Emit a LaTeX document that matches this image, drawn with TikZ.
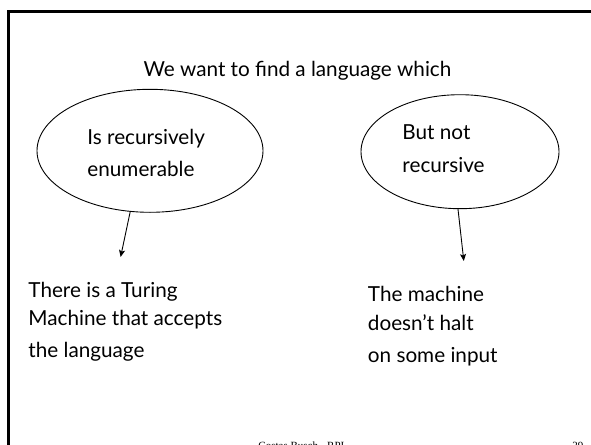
\documentclass[tikz,border=0pt]{standalone}
\usepackage{fontspec}
\setmainfont{Lato}
\newfontfamily\footfont{Liberation Serif}
\usetikzlibrary{shapes.geometric}
\usetikzlibrary{positioning}
\usetikzlibrary{arrows.meta}

\begin{document}
\begin{tikzpicture}[x=1pt,y=-1pt,->,>={Stealth[length=7pt,width=6pt,inset=1.5pt]},
		line width=0.9pt,oval/.style={ellipse,draw,inner sep=0pt},
		line/.style={anchor=base west,inner sep=0pt,font=\fontsize{20.7}{24}\selectfont},
		foot/.style={anchor=base west,inner sep=0pt,font=\footfont\fontsize{11}{13}\selectfont}]
		
		\useasboundingbox (0,0) rectangle (591,444);
		\clip (0,0) rectangle (591,444);
		
		% slide frame
		\draw[-,line width=3pt] (8.5,11.5) rectangle (640,480);
		
		\node[line, anchor=base] (title) at (297.5,76) {We want to find a language which};
		
		% the two ovals
		\node[oval, minimum width=226, minimum height=123] (re) at (150,150.8) {};
		\node[oval, minimum width=198, minimum height=114] (nr) at (460,151.7) {};
		
		\node[line] (re1) at (87,144) {Is recursively};
		\node[line] (re2) at (87,176.7) {enumerable};
		\node[line] (nr1) at (402,139.3) {But not};
		\node[line] (nr2) at (402,172.7) {recursive};
		
		\node[line] (tm1) at (28,297.7) {There is a Turing};
		\node[line] (tm2) at (28,325) {Machine that accepts};
		\node[line] (tm3) at (28,357.3) {the language};
		\node[line] (nh1) at (367.5,301.7) {The machine};
		\node[line] (nh2) at (367.5,330) {doesn't halt};
		\node[line] (nh3) at (367.5,362.7) {on some input};
		
		\coordinate (tmtip) at (120.6,257);
		\coordinate (nhtip) at (463.8,261);
		
		\path
		(re.-108) edge (tmtip)
		(nr.-92) edge (nhtip);
		
		\node[foot] (author) at (258,449) {Costas Busch - RPI};
		\node[foot] (page) at (572,449) {29};
		\end{tikzpicture}
\end{document}
